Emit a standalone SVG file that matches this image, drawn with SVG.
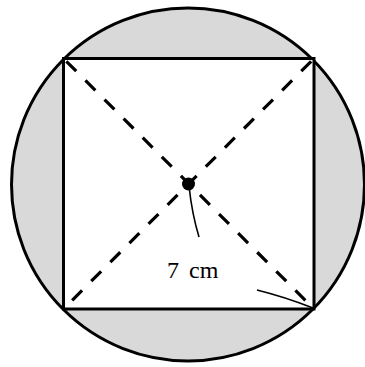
<svg xmlns="http://www.w3.org/2000/svg" width="365" height="367" viewBox="0 0 365 367">
<style>
.outline{stroke:#000;stroke-width:3;}
.dash{stroke:#000;stroke-width:3.2;stroke-dasharray:14 13;fill:none;}
.thin{stroke:#000;stroke-width:1.6;fill:none;}
.lbl{font-family:"Liberation Serif","Times New Roman",serif;font-size:24px;fill:#000;}
</style>
<rect width="365" height="367" fill="#fff"/>
<g id="circle">
<circle cx="188" cy="184.5" r="176.5" fill="#d9d9d9" class="outline"/>
</g>
<g id="square">
<rect x="63.5" y="58.5" width="250.5" height="250.5" fill="#fff" class="outline"/>
</g>
<g id="connectors">
<line class="dash" x1="63.5" y1="58.5" x2="314" y2="309" stroke-dashoffset="-4"/>
<line class="dash" x1="314" y1="58.5" x2="63.5" y2="309" stroke-dashoffset="-4"/>
<path class="thin" d="M189,186 Q192,214 199,237"/>
<path class="thin" d="M257,290 Q285,297 313,308"/>
</g>
<g id="center">
<circle cx="188.5" cy="184" r="6.5" fill="#000"/>
</g>
<g id="label">
<text class="lbl" x="167" y="278" word-spacing="4">7 cm</text>
</g>
</svg>
